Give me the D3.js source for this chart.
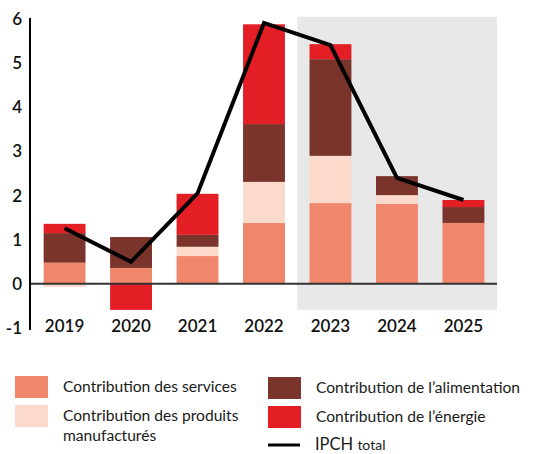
<!DOCTYPE html>
<html>
<head>
<meta charset="utf-8">
<script src="https://cdn.jsdelivr.net/npm/d3@7"></script>
<style>
    body { margin: 0; background: #fff; }
    svg { display: block; font-family: Lato, "Open Sans", sans-serif; }
</style>
</head>
<body>
<div id="chart"></div>
<script>
// values (contributions, pp)
const years = ["2019", "2020", "2021", "2022", "2023", "2024", "2025"];
const services = [0.48, 0.36, 0.63, 1.38, 1.83, 1.81, 1.38];
const manufactured = [-0.07, 0.0, 0.21, 0.93, 1.07, 0.20, 0.0];
const food = [0.67, 0.70, 0.27, 1.31, 2.19, 0.43, 0.36];
const energy = [0.21, -0.59, 0.93, 2.26, 0.34, 0.0, 0.16];
const total = [1.26, 0.50, 2.05, 5.91, 5.41, 2.40, 1.90];
const yTicks = [-1, 0, 1, 2, 3, 4, 5, 6];
const forecastFrom = "2023";

const seriesKeys = ["services", "manufactured", "food", "energy"];
const seriesColors = ["#f0866b", "#fbdacb", "#7b342c", "#e31e24"];
const legendLabels = [
    ["Contribution des services"],
    ["Contribution des produits", "manufacturés"],
    ["Contribution de l\u2019alimentation"],
    ["Contribution de l\u2019énergie"]
];

const width = 548, height = 454;
const svg = d3.select("#chart").append("svg")
    .attr("width", width)
    .attr("height", height);

const x = d3.scaleBand()
    .domain(years)
    .range([31, 497])
    .paddingInner(0.37)
    .paddingOuter(0.19);
const y = d3.scaleLinear()
    .domain([-1, 6])
    .range([328, 19]);

// table for the stack
const table = years.map((yr, i) => ({
    year: yr,
    services: services[i],
    manufactured: manufactured[i],
    food: food[i],
    energy: energy[i]
}));
const stacked = d3.stack()
    .keys(seriesKeys)
    .offset(d3.stackOffsetDiverging)(table);

// forecast shading
const fi = years.indexOf(forecastFrom);
const shadeX = (x(years[fi - 1]) + x.bandwidth() + x(years[fi])) / 2;
svg.append("rect")
    .attr("x", shadeX)
    .attr("y", y(6.05))
    .attr("width", x.range()[1] - shadeX)
    .attr("height", y(-0.59) - y(6.05))
    .attr("fill", "#e8e8e8");

// bars
const layers = svg.append("g").selectAll("g")
    .data(stacked)
    .join("g")
    .attr("fill", (d, i) => seriesColors[i]);
layers.selectAll("rect")
    .data(d => d)
    .join("rect")
    .attr("x", d => x(d.data.year))
    .attr("width", x.bandwidth())
    .attr("y", d => y(Math.max(d[0], d[1])))
    .attr("height", d => Math.abs(y(d[0]) - y(d[1])));

// zero line
svg.append("line")
    .attr("x1", x.range()[0] - 1)
    .attr("x2", x.range()[1])
    .attr("y1", y(0))
    .attr("y2", y(0))
    .attr("stroke", "#333")
    .attr("stroke-width", 2);

// y axis
const yAxis = svg.append("g")
    .attr("transform", "translate(30,0)")
    .call(d3.axisLeft(y).tickValues(yTicks).tickFormat(d => String(d))
        .tickSize(0).tickPadding(8));
yAxis.select(".domain")
    .attr("d", "M0," + (y(6) - 1) + "V" + (y(-1) + 2))
    .attr("stroke", "#000")
    .attr("stroke-width", 2);
yAxis.selectAll("text")
    .attr("font-family", "Lato, sans-serif")
    .attr("font-size", 17)
    .attr("font-weight", 600)
    .attr("fill", "#111");

// x axis labels
const xAxis = svg.append("g")
    .attr("transform", "translate(0," + (y(-1) - 8) + ")")
    .call(d3.axisBottom(x).tickSize(0).tickPadding(0));
xAxis.select(".domain").remove();
xAxis.selectAll("text")
    .attr("font-family", "Lato, sans-serif")
    .attr("font-size", 17)
    .attr("font-weight", 600)
    .attr("fill", "#111");

// total line
const lineGen = d3.line()
    .x((d, i) => x(years[i]) + x.bandwidth() / 2)
    .y(d => y(d));
svg.append("path")
    .attr("d", lineGen(total))
    .attr("fill", "none")
    .attr("stroke", "#000")
    .attr("stroke-width", 4);

// legend
const legend = svg.append("g")
    .attr("font-size", 15.6)
    .attr("fill", "#1a1a1a");
const legPos = [[15, 376], [15, 405], [268, 377], [268, 406]];
legendLabels.forEach((lines, i) => {
    legend.append("rect")
        .attr("x", legPos[i][0])
        .attr("y", legPos[i][1])
        .attr("width", 33)
        .attr("height", 22)
        .attr("fill", seriesColors[i]);
    const t = legend.append("text")
        .attr("x", legPos[i][0] + 48)
        .attr("y", legPos[i][1] + 16);
    lines.forEach((s, j) => {
        t.append("tspan")
            .attr("x", legPos[i][0] + 48)
            .attr("dy", j === 0 ? 0 : 20)
            .text(s);
    });
});
legend.append("line")
    .attr("x1", 268).attr("x2", 300)
    .attr("y1", 445).attr("y2", 445)
    .attr("stroke", "#000")
    .attr("stroke-width", 3);
const ipch = legend.append("text")
    .attr("x", 315)
    .attr("y", 450);
ipch.append("tspan").attr("font-size", 16.5).text("IPCH ");
ipch.append("tspan").attr("font-size", 14).text("total");
</script>
</body>
</html>
